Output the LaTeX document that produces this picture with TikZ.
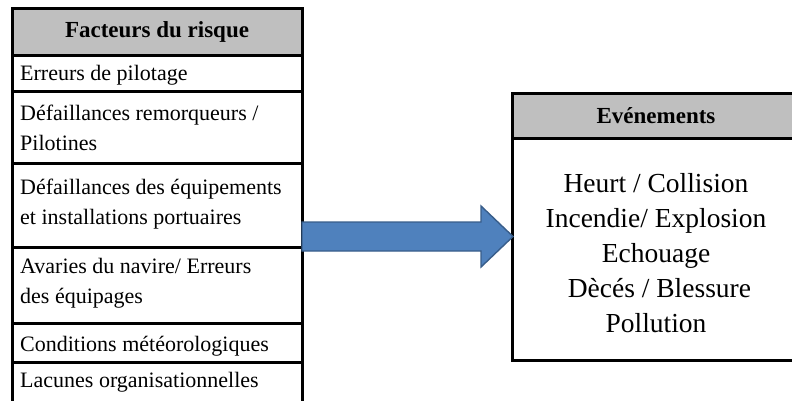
\documentclass[tikz,border=0pt]{standalone}
\usepackage{fontspec}
\setmainfont{Liberation Serif}
\usetikzlibrary{calc}
\definecolor{headgray}{RGB}{191,191,191}
\definecolor{arrowfill}{RGB}{79,129,189}
\definecolor{arrowedge}{RGB}{56,93,138}
\begin{document}
\begin{tikzpicture}[x=1pt,y=-1pt,
  cell/.style={draw=black, line width=3pt, inner sep=0pt, outer sep=0pt,
               anchor=north west, minimum width=#1},
  cell/.default=290pt,
  head/.style={font=\fontsize{23}{27}\selectfont\bfseries},
  lefttext/.style={font=\fontsize{22}{29.5}\selectfont, align=left,
                   anchor=west, inner sep=0pt},
  righttext/.style={font=\fontsize{27.5}{35}\selectfont, align=center,
                    inner sep=0pt},
  bigarrow/.style={fill=arrowfill, draw=arrowedge, line width=1.4pt,
                   line join=miter}
]
\useasboundingbox (0,0) rectangle (792,400);

% risk factor table
\node[cell, fill=headgray, minimum height=47pt] (fhead) at (12,8) {};
\node[cell, minimum height=36pt] (f1) at (12,55) {};
\node[cell, minimum height=72pt] (f2) at (12,91) {};
\node[cell, minimum height=84pt] (f3) at (12,163) {};
\node[cell, minimum height=76pt] (f4) at (12,247) {};
\node[cell, minimum height=39pt] (f5) at (12,323) {};
\node[cell, minimum height=41pt] (f6) at (12,362) {};

\node[head] (fheadtxt) at (fhead.center) {Facteurs du risque};
\node[lefttext] (t1) at ($(f1.west)+(8,2)$) {Erreurs de pilotage};
\node[lefttext] (t2) at ($(f2.west)+(8,1)$) {Défaillances remorqueurs /\\Pilotines};
\node[lefttext] (t3) at ($(f3.west)+(8,-1)$) {Défaillances des équipements\\et installations portuaires};
\node[lefttext] (t4) at ($(f4.west)+(8,-2)$) {Avaries du navire/ Erreurs\\des équipages};
\node[lefttext] (t5) at ($(f5.west)+(8,4)$) {Conditions météorologiques};
\node[lefttext] (t6) at ($(f6.west)+(8,0)$) {Lacunes organisationnelles};

% events box
\node[cell=288pt, fill=headgray, minimum height=45pt] (ehead) at (512,93) {};
\node[cell=288pt, minimum height=222pt] (ebody) at (512,138) {};
\node[head] (eheadtxt) at (ehead.center) {Evénements};
\node[righttext] (etxt) at (656,253) {Heurt / Collision\\Incendie/ Explosion\\Echouage\\\ Dècés / Blessure\\Pollution};

% block arrow from the factors to the events
\coordinate (as) at (f3.east |- 0,236.5);
\coordinate (ae) at (ebody.west |- as);
\draw[bigarrow] ($(as)+(0,-14.5)$) -- ($(ae)+(-31,-14.5)$) -- ($(ae)+(-31,-30.5)$)
  -- ($(ae)+(1,0)$) -- ($(ae)+(-31,30.5)$) -- ($(ae)+(-31,14.5)$)
  -- ($(as)+(0,14.5)$) -- cycle;
\end{tikzpicture}
\end{document}
